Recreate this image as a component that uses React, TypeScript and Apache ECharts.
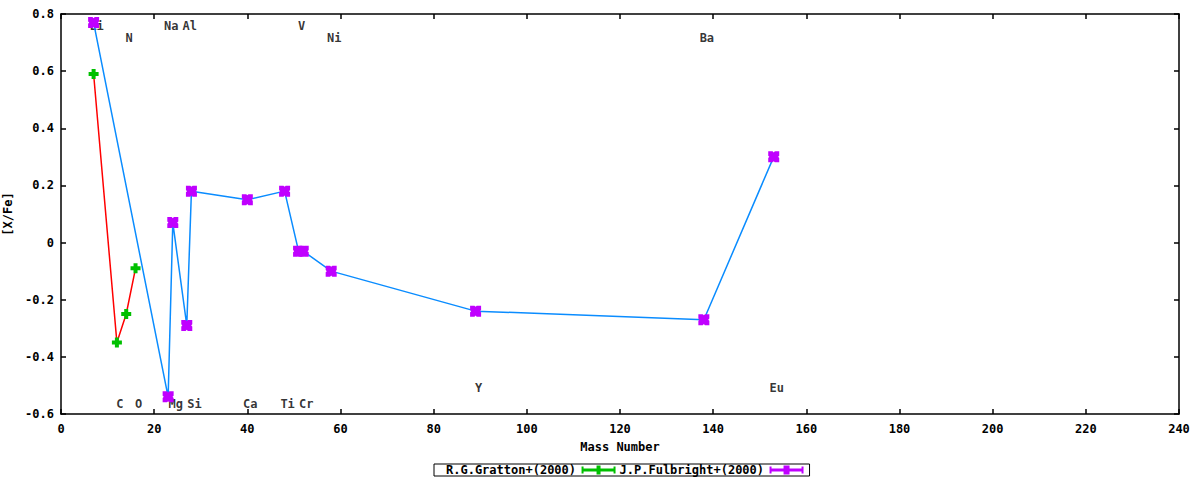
import { useEffect, useRef } from "react";
import * as echarts from "echarts";

// Gratton+(2000): Li, C, N, O
const grattonMass = [7, 12, 14, 16];
const grattonXFe = [0.59, -0.35, -0.25, -0.09];

// Fulbright+(2000)
const fulbrightMass = [7, 23, 24, 27, 28, 40, 48, 51, 52, 58, 89, 138, 153];
const fulbrightXFe = [0.77, -0.54, 0.07, -0.29, 0.18, 0.15, 0.18, -0.03, -0.03, -0.1, -0.24, -0.27, 0.3];

// element labels placed in the plot
const labelNames = ["Li", "N", "Na", "Al", "V", "Ni", "Ba", "C", "O", "Mg", "Si", "Ca", "Ti", "Cr", "Y", "Eu"];
const labelMass = [7, 14, 23, 27, 51, 58, 138, 12, 16, 24, 28, 40, 48, 52, 89, 153];
const labelY = [0.758, 0.716, 0.758, 0.758, 0.758, 0.716, 0.716, -0.565, -0.565, -0.565, -0.565, -0.565, -0.565, -0.565, -0.509, -0.509];

const FONT = "'DejaVu Sans Mono', 'Liberation Mono', monospace";
const plusIcon = "path://M3,0H7V3H10V7H7V10H3V7H0V3H3Z";
const crossIcon = "path://M0,0H4L5,1L6,0H10V4L9,5L10,6V10H6L5,9L4,10H0V6L1,5L0,4Z";
const legendPlus = "path://M0,1H2V3H15V0H19V3H32V1H34V8H32V6H19V9H15V6H2V8H0Z";
const legendCross = "path://M0,1H2V3H14V0H20V3H32V1H34V8H32V6H20V9H14V6H2V8H0Z";

export default function App() {
  const chartRef = useRef<HTMLDivElement>(null);

  useEffect(() => {
    if (!chartRef.current) return;
    const chart = echarts.init(chartRef.current, null, { renderer: "svg" });

    const axisText = { fontFamily: FONT, fontWeight: "bold" as const, fontSize: 12, color: "#000" };
    const axisLine = { show: true, onZero: false, lineStyle: { color: "#000", width: 1.5 } };
    const tick = { show: true, inside: true, length: 5, lineStyle: { color: "#000", width: 1.5 } };

    const option: any = {
      animation: false,
      backgroundColor: "#fff",
      grid: { left: 61, right: 21, top: 14, bottom: 66, outerBoundsMode: "none" },
      legend: {
        bottom: 4,
        left: 434,
        align: "right",
        itemWidth: 35,
        itemHeight: 9,
        itemGap: 4,
        padding: [0, 6, 0, 12],
        borderColor: "#000",
        borderWidth: 1,
        backgroundColor: "#fff",
        textStyle: { fontFamily: FONT, fontWeight: "bold", fontSize: 12, color: "#000" },
        data: [
          { name: "R.G.Gratton+(2000)", icon: legendPlus, itemStyle: { color: "#00c000" } },
          { name: "J.P.Fulbright+(2000)", icon: legendCross, itemStyle: { color: "#c000ff" } },
        ],
      },
      xAxis: [
        {
          type: "value",
          min: 0,
          max: 240,
          interval: 20,
          name: "Mass Number",
          nameLocation: "middle",
          nameGap: 27,
          nameTextStyle: axisText,
          axisLine,
          axisTick: tick,
          axisLabel: { ...axisText, margin: 9 },
          splitLine: { show: false },
        },
        {
          type: "value",
          position: "top",
          min: 0,
          max: 240,
          interval: 20,
          axisLine,
          axisTick: tick,
          axisLabel: { show: false },
          splitLine: { show: false },
        },
      ],
      yAxis: [
        {
          type: "value",
          min: -0.6,
          max: 0.8,
          interval: 0.2,
          name: "[X/Fe]",
          nameLocation: "middle",
          nameRotate: 90,
          nameGap: 41,
          nameTextStyle: axisText,
          axisLine,
          axisTick: tick,
          axisLabel: { ...axisText, margin: 7 },
          splitLine: { show: false },
        },
        {
          type: "value",
          position: "right",
          min: -0.6,
          max: 0.8,
          interval: 0.2,
          axisLine,
          axisTick: tick,
          axisLabel: { show: false },
          splitLine: { show: false },
        },
      ],
      series: [
        {
          name: "Element labels",
          type: "scatter",
          symbolSize: 0,
          silent: true,
          itemStyle: { color: "#000" },
          data: labelNames.map((n, i) => ({ name: n, value: [labelMass[i], labelY[i]] })),
          label: {
            show: true,
            position: [3, 0],
            align: "center",
            verticalAlign: "middle",
            formatter: (p: any) => p.name,
            ...axisText,
          },
          z: 1,
        },
        {
          name: "R.G.Gratton+(2000)",
          type: "line",
          data: grattonMass.map((m, i) => [m, grattonXFe[i]]),
          symbol: plusIcon,
          symbolSize: 10,
          showAllSymbol: true,
          lineStyle: { color: "#ff0000", width: 1.5 },
          itemStyle: { color: "#00c000" },
          z: 3,
        },
        {
          name: "J.P.Fulbright+(2000)",
          type: "line",
          data: fulbrightMass.map((m, i) => [m, fulbrightXFe[i]]),
          symbol: crossIcon,
          symbolSize: 11,
          showAllSymbol: true,
          lineStyle: { color: "#0a8cff", width: 1.5 },
          itemStyle: { color: "#c000ff" },
          z: 4,
        },
      ],
    };

    chart.setOption(option);
    return () => chart.dispose();
  }, []);

  return (
    <div
      ref={chartRef}
      style={{ position: "fixed", left: 0, top: 0, width: 1200, height: 480 }}
    />
  );
}
